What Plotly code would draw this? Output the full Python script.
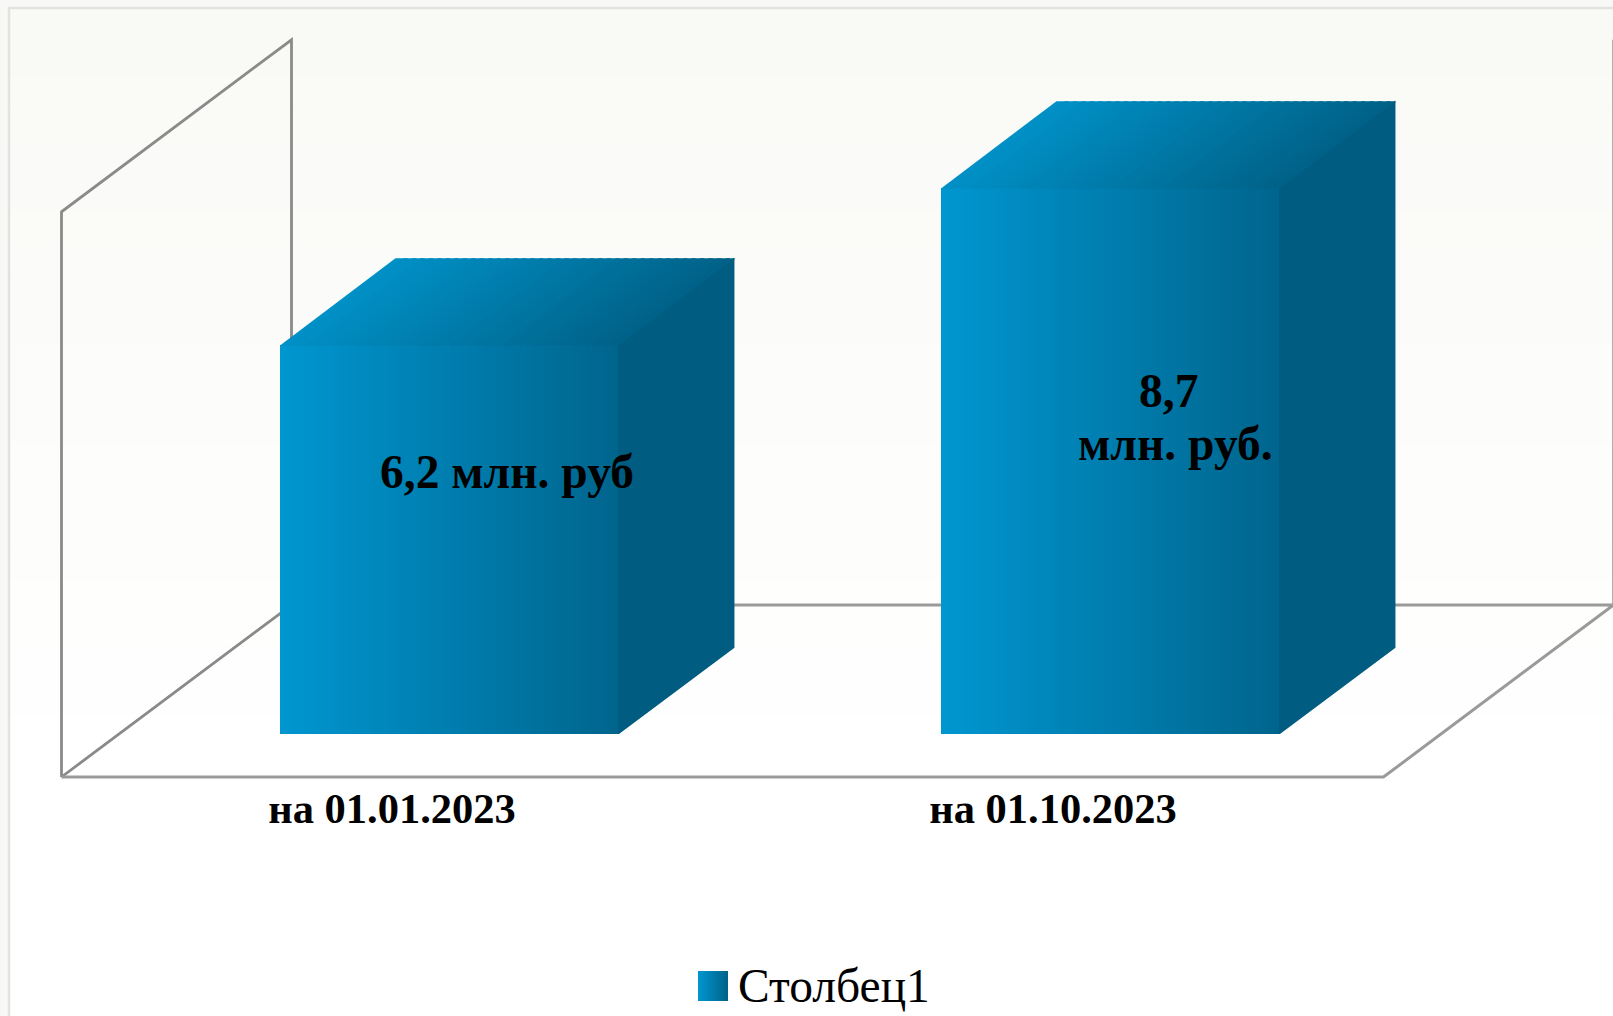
import plotly.graph_objects as go

# ---- data ----
categories = ["на 01.01.2023", "на 01.10.2023"]
values = [6.2, 8.7]
series_name = "Столбец1"
label_lines = [["6,2 млн. руб"], ["8,7", "млн. руб."]]

# ---- chart geometry (oblique 3D projection in axis units) ----
W, H = 1613, 1016
PX_PER_CAT, PX_PER_VAL = 661.0, 62.8
ZERO_PX_X, ZERO_PX_Y = 392.0, 777.0     # category 0, value 0, front plane
X_RANGE = [(0 - ZERO_PX_X) / PX_PER_CAT, (W - ZERO_PX_X) / PX_PER_CAT]
Y_RANGE = [(ZERO_PX_Y - H) / PX_PER_VAL, (ZERO_PX_Y - 0) / PX_PER_VAL]
DEPTH_X, DEPTH_Y = 230 / PX_PER_CAT, 172 / PX_PER_VAL
VALUE_MAX = 9.0
BAR_WIDTH = 1 / 1.95
BAR_D0, BAR_D1 = 0.25, 0.752
N_FRONT, N_TOP = 113, 40

FRONT_L, FRONT_R = (0, 150, 208), (0, 101, 141)
SIDE = "#005c80"
TOP_L, TOP_R = (0, 144, 198), (0, 98, 136)
WALL = "#8a8a8a"


def px_x(p):
    return (p - ZERO_PX_X) / PX_PER_CAT


def px_y(p):
    return (ZERO_PX_Y - p) / PX_PER_VAL


def mix(a, b, t):
    return "rgb(%d,%d,%d)" % tuple(round(a[i] + (b[i] - a[i]) * t) for i in range(3))


def proj(x, v, d):
    return x + d * DEPTH_X, v + d * DEPTH_Y


fig = go.Figure()

# ---- page background: soft vertical gradient + thin frame ----
shapes = [dict(type="rect", xref="paper", yref="paper", x0=0, x1=1, y0=0, y1=1,
               fillcolor="#f8f8f6", line_width=0, layer="below")]
BANDS = 30
for i in range(BANDS):
    t0, t1 = i / BANDS, (i + 1) / BANDS
    shade = mix((249, 250, 246), (255, 255, 255), min(1, t0 * 1.35))
    shapes.append(dict(type="rect", xref="paper", yref="paper",
                       x0=9 / W, x1=1, y0=1 - (8 + t1 * (H - 8)) / H, y1=1 - (8 + t0 * (H - 8)) / H,
                       fillcolor=shade, line_width=0, layer="below"))
shapes.append(dict(type="line", xref="paper", yref="paper", x0=9 / W, x1=9 / W, y0=0, y1=1 - 8 / H,
                   line=dict(color="#e2e2e0", width=2.5), layer="below"))
shapes.append(dict(type="line", xref="paper", yref="paper", x0=8 / W, x1=1, y0=1 - 8 / H, y1=1 - 8 / H,
                   line=dict(color="#e2e2e0", width=2.5), layer="below"))


# ---- wall and floor outlines ----
def outline(points, color, width):
    coords = [proj(*p) for p in points]
    path = "M" + " L".join(f"{x},{y}" for x, y in coords)
    shapes.append(dict(type="path", xref="x", yref="y", path=path,
                       line=dict(color=color, width=width), layer="below"))


x_l, x_r = -0.5, len(categories) - 0.5
outline([(x_l, 0, 0), (x_l, VALUE_MAX, 0), (x_l, VALUE_MAX, 1), (x_l, 0, 1), (x_l, 0, 0)], WALL, 2.8)
outline([(x_l, 0, 0), (x_r, 0, 0), (x_r, 0, 1), (x_l, 0, 1)], "#9a9a9a", 3)
outline([(x_r, 0, 1), (x_r, VALUE_MAX, 1)], "#a8a8a8", 2.8)

OVERLAP_X, OVERLAP_Y = 0.8 / PX_PER_CAT, 0.8 / PX_PER_VAL

# ---- bars ----
for c, v in enumerate(values):
    off_x, off_y = proj(c, 0, BAR_D0)
    left = off_x - BAR_WIDTH / 2
    right = left + BAR_WIDTH
    step = BAR_WIDTH / N_FRONT
    top = off_y + v
    depth_dx, depth_dy = (BAR_D1 - BAR_D0) * DEPTH_X, (BAR_D1 - BAR_D0) * DEPTH_Y
    # front face
    fig.add_trace(go.Bar(
        x=[left + (i + 0.5) * step for i in range(N_FRONT)],
        y=[v] * N_FRONT, base=off_y, width=step,
        marker=dict(color=[mix(FRONT_L, FRONT_R, i / (N_FRONT - 1)) for i in range(N_FRONT)],
                    line_width=0),
        showlegend=False, hoverinfo="skip"))
    # seam backing between top and side
    fig.add_trace(go.Scatter(x=[right, right + depth_dx], y=[top, top + depth_dy], mode="lines",
                             line=dict(color=SIDE, width=1.6), showlegend=False, hoverinfo="skip"))
    # right side face
    sx = [right - OVERLAP_X, right, right + depth_dx, right + depth_dx, right, right - OVERLAP_X,
          right - OVERLAP_X]
    sy = [off_y, off_y, off_y + depth_dy, top + depth_dy, top, top, off_y]
    fig.add_trace(go.Scatter(x=sx, y=sy, mode="lines", fill="toself", fillcolor=SIDE,
                             line=dict(width=0), showlegend=False, hoverinfo="skip"))
    # top face, painted in overlapping slices for the gradient
    for i in range(N_TOP):
        u0 = left + BAR_WIDTH * i / N_TOP
        u1 = left + BAR_WIDTH * min(1, (i + 1.5) / N_TOP)
        fig.add_trace(go.Scatter(
            x=[u0, u1, u1 + depth_dx, u0 + depth_dx, u0],
            y=[top - OVERLAP_Y, top - OVERLAP_Y, top + depth_dy, top + depth_dy, top - OVERLAP_Y],
            mode="lines", fill="toself", fillcolor=mix(TOP_L, TOP_R, i / (N_TOP - 1)),
            line=dict(width=0), showlegend=False, hoverinfo="skip"))

# ---- data labels ----
label_pos = [[(507, 472)], [(1168, 391), (1175, 444)]]
annotations = []
for lines, places in zip(label_lines, label_pos):
    for line, (px, py) in zip(lines, places):
        annotations.append(dict(x=px_x(px), y=px_y(py), xref="x", yref="y", text=line, showarrow=False,
                                xanchor="center", yanchor="middle",
                                font=dict(family="Liberation Serif", size=47.5, color="black", weight="bold")))

# ---- legend entry (swatch and name) ----
fig.add_trace(go.Scatter(
    x=[px_x(713)], y=[px_y(986)], mode="markers",
    marker=dict(symbol="square", size=30, color="rgb(0,150,208)", line_width=0,
                gradient=dict(type="horizontal", color="rgb(0,98,136)")),
    name=series_name, showlegend=False, hoverinfo="skip", cliponaxis=False))
annotations.append(dict(x=px_x(736), y=px_y(986), xref="x", yref="y", text=series_name, showarrow=False,
                        xanchor="left", yanchor="middle",
                        font=dict(family="Liberation Serif", size=47.5, color="black")))

fig.update_layout(
    width=W, height=H, autosize=False,
    margin=dict(l=0, r=0, t=0, b=0),
    paper_bgcolor="white", plot_bgcolor="rgba(0,0,0,0)",
    barmode="overlay", bargap=0,
    showlegend=False,
    shapes=shapes, annotations=annotations,
    xaxis=dict(range=X_RANGE, domain=[0, 1], anchor="free", position=1 - ZERO_PX_Y / H,
               tickmode="array", tickvals=list(range(len(categories))), ticktext=categories,
               tickfont=dict(family="Liberation Serif", size=42.5, color="black", weight="bold"),
               ticks="", showline=False, showgrid=False, zeroline=False, fixedrange=True,
               ticklabelstandoff=2),
    yaxis=dict(range=Y_RANGE, domain=[0, 1], visible=False, fixedrange=True,
               showgrid=False, zeroline=False),
)

fig.write_html("out.html", config=dict(displayModeBar=False),
               post_script="document.body.style.margin='0';document.documentElement.style.overflow='hidden';")
